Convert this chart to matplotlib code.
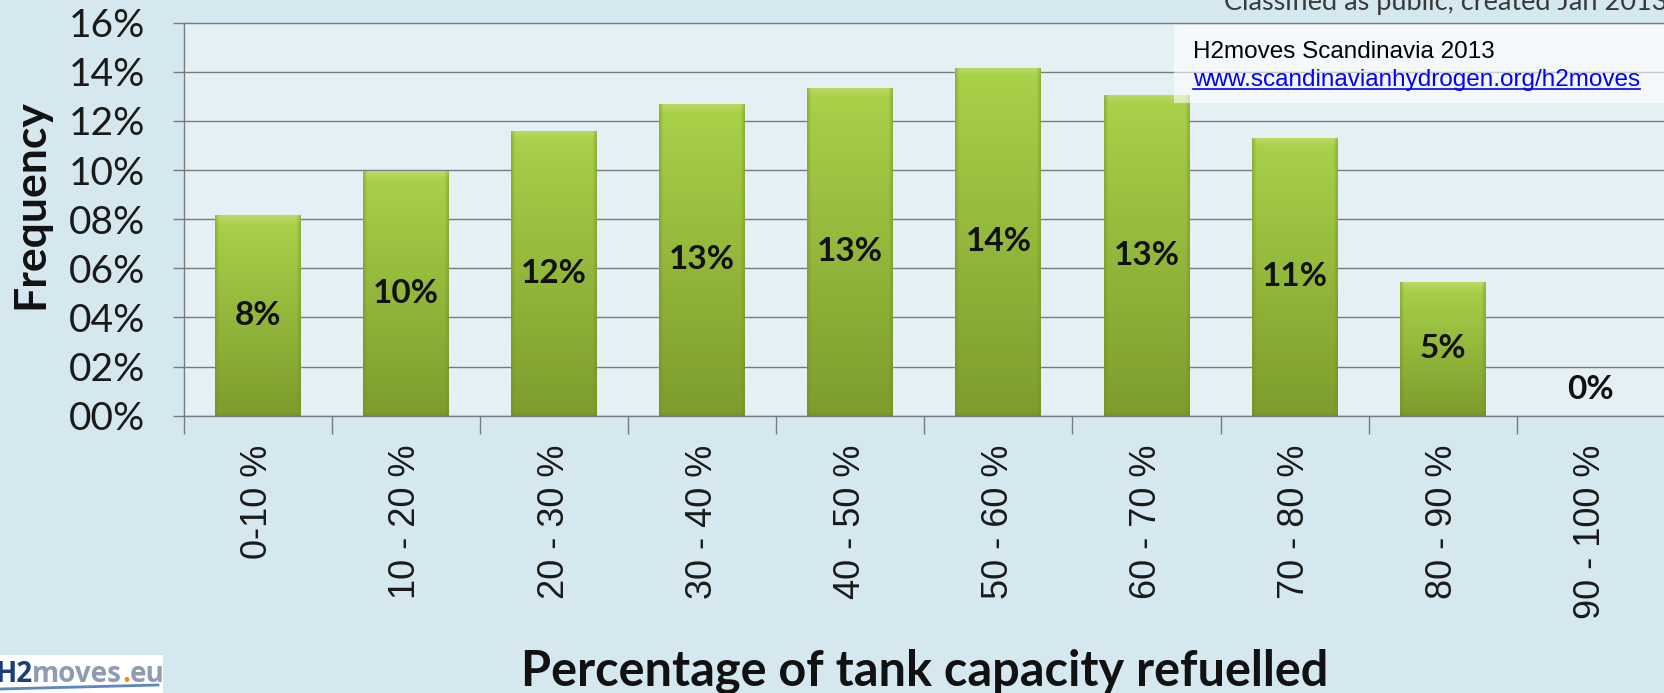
import numpy as np
import matplotlib
matplotlib.use("Agg")
import matplotlib.pyplot as plt
from matplotlib.patches import Rectangle
from matplotlib.colors import to_rgb

# Refuelling distribution data
categories = ["0-10 %", "10 - 20 %", "20 - 30 %", "30 - 40 %", "40 - 50 %",
              "50 - 60 %", "60 - 70 %", "70 - 80 %", "80 - 90 %", "90 - 100 %"]
frequency = [0.0817, 0.0996, 0.1161, 0.1271, 0.1336, 0.1417, 0.1307, 0.1132, 0.0545, 0.0]
y_ticks = [0.00, 0.02, 0.04, 0.06, 0.08, 0.10, 0.12, 0.14, 0.16]

W, H, DPI = 1665, 693, 100
fig = plt.figure(figsize=(W / DPI, H / DPI), dpi=DPI, facecolor="#D5E8F0")
ax = fig.add_axes([183.7 / W, 277.3 / H, 1 - 183.7 / W, (415.7 - 22.7) / H])
ax.set_facecolor("#E5F0F5")

x = np.arange(len(categories))
bar_w = 0.58
bars = ax.bar(x, frequency, width=bar_w, color="#98BF3C", zorder=3, linewidth=0)

ax.set_xlim(-0.5, len(categories) - 0.5)
ax.set_ylim(0, 0.16)

# Gradient fill for each bar (bevelled look)
top_c = np.array(to_rgb("#AAD24A"))
bot_c = np.array(to_rgb("#7C9D2C"))
hi_c = np.array(to_rgb("#C6E27A"))
edge_c = np.array(to_rgb("#6E8C24"))
px_per_unit_y = (415.7 - 22.7) / 0.16
px_per_unit_x = (W - 183.7) / len(categories)
for rect, v in zip(bars, frequency):
    if v <= 0:
        continue
    ny = max(int(v * px_per_unit_y), 2)
    nx = int(bar_w * px_per_unit_x)
    t = np.linspace(0, 1, ny)[:, None]  # 0 = top, 1 = bottom
    img = top_c[None, None, :] * (1 - t[..., None]) + bot_c[None, None, :] * t[..., None]
    img = np.repeat(img, nx, axis=1)
    # top highlight band
    band = 9
    for i in range(min(band, ny)):
        a = 0.55 * (1 - i / band)
        img[i] = img[i] * (1 - a) + hi_c * a
    # darker side and bottom edges
    for j in range(4):
        a = 0.45 * (1 - j / 4)
        img[:, j] = img[:, j] * (1 - a) + edge_c * a
        img[:, nx - 1 - j] = img[:, nx - 1 - j] * (1 - a) + edge_c * a
        img[ny - 1 - j] = img[ny - 1 - j] * (1 - a) + edge_c * a
    x0 = rect.get_x()
    im = ax.imshow(img, extent=(x0, x0 + rect.get_width(), 0, v), aspect="auto",
                   origin="upper", zorder=3.5, interpolation="bilinear")
    im.set_clip_path(rect)

# Value labels centred in the bars
for xi, v in zip(x, frequency):
    label = f"{v * 100:.0f}%"
    if v > 0:
        ax.text(xi, v / 2, label, ha="center", va="center", fontsize=24,
                fontweight="bold", family="Lato", color="#111111", zorder=5)
    else:
        ax.annotate(label, (xi, 0), xytext=(0, 26), textcoords="offset pixels",
                    ha="center", va="center", fontsize=24, fontweight="bold",
                    family="Lato", color="#111111", zorder=5)

# Axes styling
grid_c = "#767B80"
for s in ["top", "right", "bottom"]:
    ax.spines[s].set_visible(False)
ax.spines["left"].set_color(grid_c)
ax.spines["left"].set_linewidth(1.0)
ax.set_yticks(y_ticks)
ax.set_yticklabels([f"{round(v * 100):02d}%" for v in y_ticks])
ax.yaxis.grid(True, color=grid_c, linewidth=1.0, zorder=1)
for gl in ax.get_ygridlines():
    gl.set_clip_on(False)
ax.set_axisbelow(True)
ax.tick_params(axis="y", length=8, width=1, color=grid_c, pad=20,
               labelsize=28, labelcolor="#1A1A1A")
for lbl in ax.get_yticklabels():
    lbl.set_family("Lato")

ax.set_xticks(x)
ax.set_xticklabels(categories, rotation=90, fontsize=26, family="Liberation Sans",
                   color="#1A1A1A")
ax.set_xticks(np.arange(-0.5, len(categories), 1.0), minor=True)
ax.tick_params(axis="x", which="major", length=0, pad=21)
ax.tick_params(axis="x", which="minor", length=13, width=1, color=grid_c)
ax.axhline(0, color=grid_c, linewidth=1.0, zorder=4)

# Axis titles
fig.text(30 / W, 1 - 204 / H, "Frequency", rotation=90, ha="center", va="center",
         fontsize=32, fontweight="bold", family="Lato", color="#111111")
fig.text((183.7 + W) / 2 / W, 1 - 671 / H, "Percentage of tank capacity refuelled",
         ha="center", va="center", fontsize=35, fontweight="bold", family="Lato",
         color="#111111")

# Header line at the top edge
fig.text(1224 / W, 1 - 10 / H, "Classified as public, created Jan 2013", ha="left",
         va="baseline", fontsize=19.5, family="Lato", color="#3A3A3A")

# Source box
fig.add_artist(Rectangle((1174 / W, 1 - 103 / H), (W - 1174) / W, 78 / H,
                         transform=fig.transFigure, facecolor="white", alpha=0.6,
                         edgecolor="none", zorder=6))
fig.text(1193 / W, 1 - 58 / H, "H2moves Scandinavia 2013", ha="left", va="baseline",
         fontsize=17.5, family="Liberation Sans", color="black", zorder=7)
url = fig.text(1193 / W, 1 - 86 / H, "www.scandinavianhydrogen.org/h2moves", ha="left",
               va="baseline", fontsize=17.5, family="Liberation Sans", color="#0000FF",
               zorder=7)
fig.canvas.draw()
bb = url.get_window_extent()
fig.add_artist(plt.Line2D([bb.x0 / W, bb.x1 / W], [(H - 89) / H, (H - 89) / H],
                          transform=fig.transFigure, color="#0000FF", linewidth=1.2,
                          zorder=7))

# Logo in the lower-left corner
fig.add_artist(Rectangle((0, 0), 163 / W, 38 / H, transform=fig.transFigure,
                         facecolor="white", edgecolor="none", zorder=6))
renderer = fig.canvas.get_renderer()
pieces = [("H2", "#1C3F7C"), ("moves", "#8E9BB0"), (".", "#F08A1C"), ("eu", "#8E9BB0")]
cursor = -5
for txt, col in pieces:
    t = fig.text(cursor / W, 11 / H, txt, ha="left", va="baseline", fontsize=20,
                 fontweight="bold", family="Open Sans", color=col, zorder=7)
    cursor += t.get_window_extent(renderer).width
fig.add_artist(plt.Line2D([0, 158 / W], [4 / H, 8 / H], transform=fig.transFigure,
                          color="#5B86C4", linewidth=2, zorder=7))

fig.savefig("out.png", dpi=DPI, facecolor=fig.get_facecolor())
